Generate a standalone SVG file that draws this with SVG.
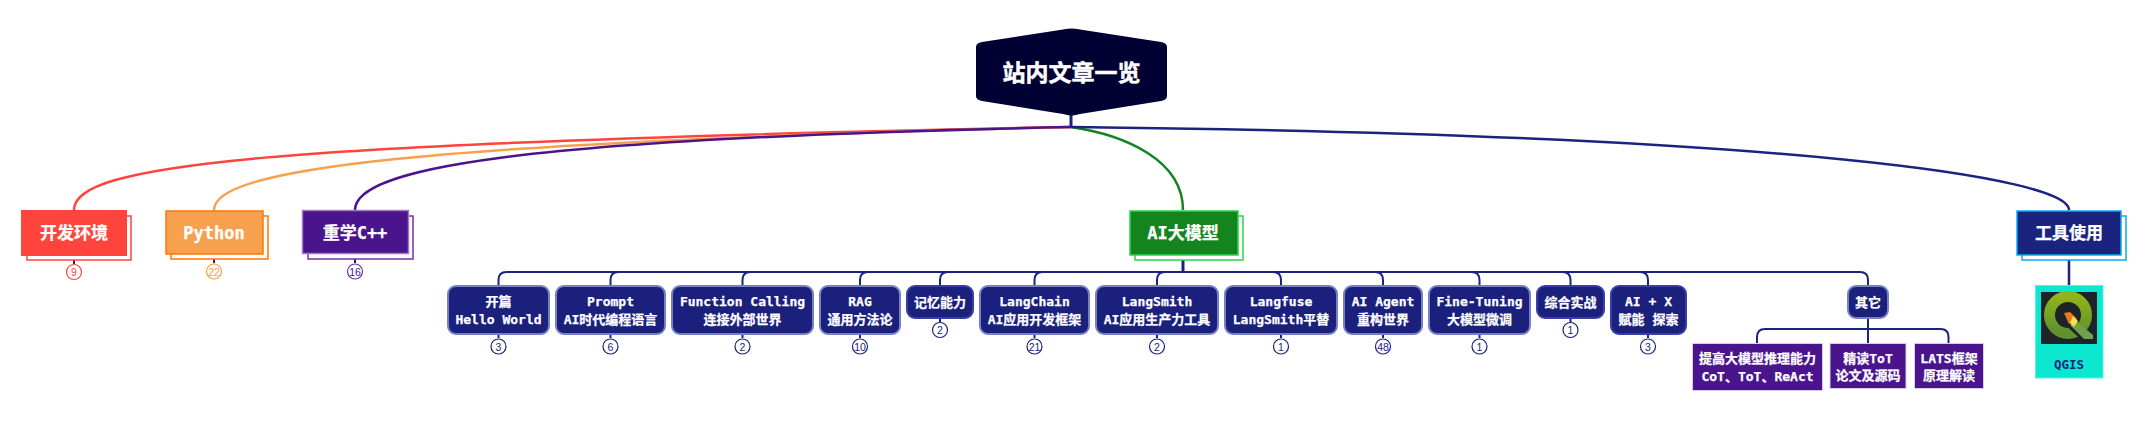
<svg xmlns="http://www.w3.org/2000/svg" width="2155" height="424" viewBox="0 0 2155 424">
<defs><linearGradient id="qg" x1="0" y1="0" x2="0" y2="1"><stop offset="0" stop-color="#8fb51c"/><stop offset="1" stop-color="#5f8f2e"/></linearGradient></defs>
<style>
text{font-family:"DejaVu Sans Mono","Noto Sans CJK SC",monospace;font-weight:700;text-anchor:middle;fill:#fff;stroke:#fff;stroke-width:.25px}
.t1{font-size:17px}
.t2{font-size:13px}
.root{font-size:23px;font-family:"Liberation Sans","Noto Sans CJK SC",sans-serif;stroke-width:.5px}
.b{font-family:"Liberation Sans",sans-serif;font-weight:400;font-size:10.5px;stroke:none}
.c{fill:none;stroke-width:2.5}
.n{fill:none;stroke:#1a237e;stroke-width:2}
.sub{fill:#1a207c;stroke:#7580c5;stroke-width:2}
.sub2{fill:#1a207c;stroke:#3a3fa8;stroke-width:2}
.pur{fill:#4a148c;stroke:#d8cde8;stroke-width:1}
.badge{fill:#fff;stroke-width:1.2}
</style>
<rect width="2155" height="424" fill="#fff"/>
<g id="connectors">
<path class="c" stroke="#ff443e" d="M74 210C74 165 250 143 1071 127"/>
<path class="c" stroke="#f7a04d" d="M214 210C214 170 400 143 1071 127"/>
<path class="c" stroke="#14841e" d="M1183 210C1183 160 1125 135 1071 127"/>
<path class="c" stroke="#4a148c" d="M355 210C355 170 500 139 1071 127"/>
<path class="c" stroke="#1a237e" d="M2069 210C2069 178 1800 135 1071 127"/>
<path d="M1071 115V128" stroke="#1a237e" stroke-width="3" fill="none"/>
<path d="M1183 260V272" stroke="#1a237e" stroke-width="3" fill="none"/>
<path class="n" d="M498.500 286V280Q498.500 272 506.500 272H1860Q1868 272 1868 280V286"/>
<path class="n" d="M610.500 286V280Q610.500 272 618.500 272M742.500 286V280Q742.500 272 750.500 272M860 286V280Q860 272 868 272M940 286V280Q940 272 948 272M1034.500 286V280Q1034.500 272 1042.500 272M1157 286V280Q1157 272 1165 272M1281 286V280Q1281 272 1273 272M1383 286V280Q1383 272 1375 272M1479.500 286V280Q1479.500 272 1471.500 272M1570.500 286V280Q1570.500 272 1562.500 272M1648 286V280Q1648 272 1640 272"/>
<path class="n" d="M1868 318V343M1757 343V337Q1757 329 1765 329H1940.500Q1948.500 329 1948.500 337V343"/>
<path d="M2069 260V285" stroke="#1a237e" stroke-width="2.500" fill="none"/>
<path class="n" stroke-width="1.500" d="M74 260V264M214 258V263M355 258V263M498.500 334V338M610.500 334V338M742.500 334V338M860 334V338M940 318V322M1034.500 334V338M1157 334V338M1281 334V338M1383 334V338M1479.500 334V338M1570.500 318V322M1648 334V338"/>
</g>
<g id="root"><path d="M1071.500 28.500Q1074 28.500 1080 29.500L1161 42Q1167 43 1167 47V96Q1167 100 1161 101L1080 114Q1073 115.500 1071.500 115.500Q1070 115.500 1063 114L982 101Q976 100 976 96V47Q976 43 982 42L1063 29.500Q1069 28.500 1071.500 28.500Z" fill="#000033"/><text class="root" x="1071.500" y="81">站内文章一览</text></g>
<g id="dev"><rect x="27" y="216" width="104" height="44" fill="#fff" stroke="#ff443e" stroke-width="1.500"/><rect x="21" y="210" width="106" height="46" fill="#ff443e"/><text class="t1" x="74" y="239">开发环境</text><circle class="badge" cx="74" cy="272" r="7.500" stroke="#ff443e"/><text class="b" x="74" y="276" style="fill:#ff443e">9</text></g>
<g id="python"><rect x="171" y="216" width="97" height="43" fill="#fff" stroke="#ff7506" stroke-width="1.500"/><rect x="166" y="211" width="97" height="43" fill="#f7a04d" stroke="#ff7506" stroke-width="1.500"/><text class="t1" x="214" y="239">Python</text><circle class="badge" cx="214" cy="271.500" r="7.500" stroke="#f7a04d"/><text class="b" x="214" y="275.500" style="fill:#f7a04d">22</text></g>
<g id="cpp"><rect x="308" y="216" width="105" height="43" fill="#fff" stroke="#7b2fa5" stroke-width="1.500"/><rect x="302.500" y="210.500" width="106" height="43" fill="#4a148c" stroke="#a678c8" stroke-width="1.500"/><text class="t1" x="355" y="239">重学C++</text><circle class="badge" cx="355" cy="271.500" r="7.500" stroke="#6a32a0"/><text class="b" x="355" y="275.500" style="fill:#4a148c">16</text></g>
<g id="ai"><rect x="1135" y="216" width="108" height="44" fill="#fff" stroke="#2ad44a" stroke-width="1.500"/><rect x="1130" y="211" width="108" height="44" fill="#14841e" stroke="#2ad44a" stroke-width="1.500"/><text class="t1" x="1183" y="239">AI大模型</text></g>
<g id="tools"><rect x="2022" y="216" width="104" height="44" fill="#fff" stroke="#0aa9f5" stroke-width="1.500"/><rect x="2017" y="211" width="104" height="44" fill="#1a237e" stroke="#0aa9f5" stroke-width="1.500"/><text class="t1" x="2069" y="239">工具使用</text></g>

<g id="n1"><rect class="sub" x="448" y="286" width="101" height="48" rx="8"/><text class="t2" x="498.500" y="306">开篇</text><text class="t2" x="498.500" y="324">Hello World</text><circle class="badge" cx="498.500" cy="346.500" r="7.500" stroke="#1a237e"/><text class="b" x="498.500" y="350.500" style="fill:#1a237e">3</text></g>
<g id="n2"><rect class="sub" x="556" y="286" width="109" height="48" rx="8"/><text class="t2" x="610.500" y="306">Prompt</text><text class="t2" x="610.500" y="324">AI时代编程语言</text><circle class="badge" cx="610.500" cy="346.500" r="7.500" stroke="#1a237e"/><text class="b" x="610.500" y="350.500" style="fill:#1a237e">6</text></g>
<g id="n3"><rect class="sub" x="672" y="286" width="141" height="48" rx="8"/><text class="t2" x="742.500" y="306">Function Calling</text><text class="t2" x="742.500" y="324">连接外部世界</text><circle class="badge" cx="742.500" cy="346.500" r="7.500" stroke="#1a237e"/><text class="b" x="742.500" y="350.500" style="fill:#1a237e">2</text></g>
<g id="n4"><rect class="sub" x="820" y="286" width="80" height="48" rx="8"/><text class="t2" x="860" y="306">RAG</text><text class="t2" x="860" y="324">通用方法论</text><circle class="badge" cx="860" cy="346.500" r="7.500" stroke="#1a237e"/><text class="b" x="860" y="350.500" style="fill:#1a237e">10</text></g>
<g id="n5"><rect class="sub2" x="907" y="286" width="66" height="32" rx="8"/><text class="t2" x="940" y="307">记忆能力</text><circle class="badge" cx="940" cy="330" r="7.500" stroke="#1a237e"/><text class="b" x="940" y="334" style="fill:#1a237e">2</text></g>
<g id="n6"><rect class="sub" x="980" y="286" width="109" height="48" rx="8"/><text class="t2" x="1034.500" y="306">LangChain</text><text class="t2" x="1034.500" y="324">AI应用开发框架</text><circle class="badge" cx="1034.500" cy="346.500" r="7.500" stroke="#1a237e"/><text class="b" x="1034.500" y="350.500" style="fill:#1a237e">21</text></g>
<g id="n7"><rect class="sub" x="1096" y="286" width="122" height="48" rx="8"/><text class="t2" x="1157" y="306">LangSmith</text><text class="t2" x="1157" y="324">AI应用生产力工具</text><circle class="badge" cx="1157" cy="346.500" r="7.500" stroke="#1a237e"/><text class="b" x="1157" y="350.500" style="fill:#1a237e">2</text></g>
<g id="n8"><rect class="sub" x="1225" y="286" width="112" height="48" rx="8"/><text class="t2" x="1281" y="306">Langfuse</text><text class="t2" x="1281" y="324">LangSmith平替</text><circle class="badge" cx="1281" cy="346.500" r="7.500" stroke="#1a237e"/><text class="b" x="1281" y="350.500" style="fill:#1a237e">1</text></g>
<g id="n9"><rect class="sub" x="1344" y="286" width="78" height="48" rx="8"/><text class="t2" x="1383" y="306">AI Agent</text><text class="t2" x="1383" y="324">重构世界</text><circle class="badge" cx="1383" cy="346.500" r="7.500" stroke="#1a237e"/><text class="b" x="1383" y="350.500" style="fill:#1a237e">48</text></g>
<g id="n10"><rect class="sub" x="1429" y="286" width="101" height="48" rx="8"/><text class="t2" x="1479.500" y="306">Fine-Tuning</text><text class="t2" x="1479.500" y="324">大模型微调</text><circle class="badge" cx="1479.500" cy="346.500" r="7.500" stroke="#1a237e"/><text class="b" x="1479.500" y="350.500" style="fill:#1a237e">1</text></g>
<g id="n11"><rect class="sub2" x="1537" y="286" width="67" height="32" rx="8"/><text class="t2" x="1570.500" y="307">综合实战</text><circle class="badge" cx="1570.500" cy="330" r="7.500" stroke="#1a237e"/><text class="b" x="1570.500" y="334" style="fill:#1a237e">1</text></g>
<g id="n12"><rect class="sub2" x="1611" y="286" width="75" height="48" rx="8"/><text class="t2" x="1648.500" y="306">AI + X</text><text class="t2" x="1648.500" y="324">赋能 探索</text><circle class="badge" cx="1648" cy="346.500" r="7.500" stroke="#1a237e"/><text class="b" x="1648" y="350.500" style="fill:#1a237e">3</text></g>
<g id="n13"><rect class="sub" x="1848" y="286" width="40" height="32" rx="8"/><text class="t2" x="1868" y="307">其它</text></g>
<g id="m1"><rect class="pur" x="1692.500" y="343.500" width="130" height="47"/><text class="t2" x="1757.500" y="363">提高大模型推理能力</text><text class="t2" x="1757.500" y="381">CoT、ToT、ReAct</text></g>
<g id="m2"><rect class="pur" x="1830" y="343.500" width="76" height="45"/><text class="t2" x="1868" y="363">精读ToT</text><text class="t2" x="1868" y="380">论文及源码</text></g>
<g id="m3"><rect class="pur" x="1914.500" y="343.500" width="69" height="45"/><text class="t2" x="1949" y="363">LATS框架</text><text class="t2" x="1949" y="380">原理解读</text></g>
<g id="qgis"><rect x="2035.500" y="285.500" width="67.500" height="92.500" fill="#0ce8d0" stroke="#5ceee0" stroke-width="1"/><rect x="2041" y="292" width="56" height="52" fill="#1e2229"/>
<circle cx="2068" cy="315" r="18.500" fill="none" stroke="url(#qg)" stroke-width="11"/>
<path d="M2072 320L2097 340V344H2086L2062 322Z" fill="#1e2229"/>
<path d="M2075 320L2093 335V339H2084L2070 325Z" fill="#6fa04a"/>
<path d="M2064 313L2070 312L2077 319L2069 324Z" fill="#f07a1a"/>
<path d="M2073 316L2078 321L2074 327L2070 323Z" fill="#f5e050"/>
<text x="2069" y="369" style="font-size:12.500px;fill:#1a237e;stroke:none">QGIS</text></g>
</svg>
